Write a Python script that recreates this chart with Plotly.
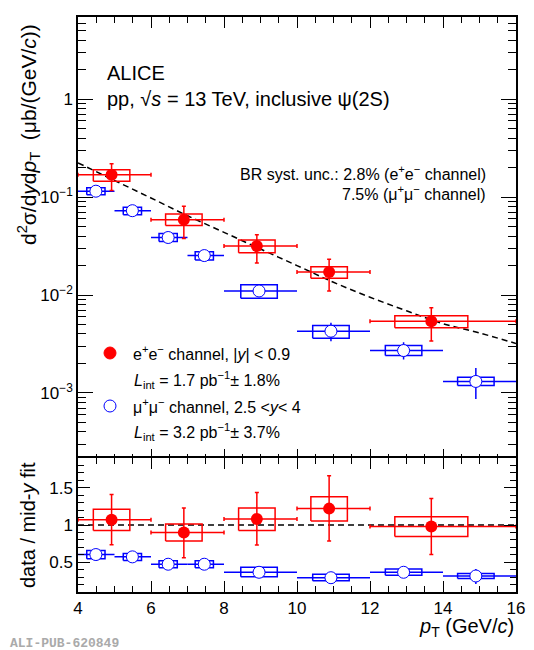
"""Inclusive psi(2S) cross section in pp at 13 TeV, e+e- and mu+mu- channels
"""

import plotly.graph_objects as go

# e+e- channel, |y| < 0.9
ee_x = [4.92, 6.90, 8.90, 10.88, 13.68]
ee_bin_lo = [4, 6, 8, 10, 12]
ee_bin_hi = [6, 8, 10, 12, 16]
ee_box_half = [0.5, 0.5, 0.5, 0.5, 1.0]
ee_xsec = [0.169, 0.0588, 0.0316, 0.0172, 0.0054]
ee_stat_hi = [0.219, 0.0805, 0.0412, 0.0232, 0.0074]
ee_stat_lo = [0.117, 0.0378, 0.0213, 0.0110, 0.0034]
ee_sys_hi = [0.190, 0.0673, 0.0364, 0.0195, 0.00614]
ee_sys_lo = [0.145, 0.0514, 0.0270, 0.0148, 0.00462]

# mu+mu- channel, 2.5 < y < 4
mm_x = [4.49, 5.49, 6.47, 7.46, 8.96, 10.93, 12.92, 14.90]
mm_bin_lo = [4, 5, 6, 7, 8, 10, 12, 14]
mm_bin_hi = [5, 6, 7, 8, 10, 12, 14, 16]
mm_box_half = [0.25, 0.25, 0.25, 0.25, 0.5, 0.5, 0.5, 0.5]
mm_xsec = [0.115, 0.0727, 0.0387, 0.0253, 0.0110, 0.00427, 0.00271, 0.00131]
mm_stat_hi = [0.121, 0.0765, 0.0410, 0.0268, 0.0120, 0.0052, 0.0033, 0.0018]
mm_stat_lo = [0.109, 0.0690, 0.0365, 0.0238, 0.0101, 0.00338, 0.00219, 0.000865]
mm_sys_hi = [0.125, 0.0786, 0.0425, 0.0276, 0.0127, 0.00489, 0.00305, 0.00145]
mm_sys_lo = [0.106, 0.0660, 0.0352, 0.0228, 0.00925, 0.00362, 0.00241, 0.00119]

# mid-y fit (dashed curve)
fit_x = [4, 5, 6, 7, 8, 9, 10, 11, 12, 13, 14, 15, 16]
fit_y = [0.224, 0.148, 0.098, 0.0646, 0.0437, 0.0295, 0.0200, 0.0135,
         0.0095, 0.0069, 0.0051, 0.0041, 0.0032]

# ratios data / mid-y fit
ee_ratio = [1.072, 0.90, 1.08, 1.22, 0.98]
ee_ratio_stat_hi = [1.41, 1.23, 1.437, 1.66, 1.355]
ee_ratio_stat_lo = [0.734, 0.56, 0.73, 0.784, 0.603]
ee_ratio_sys_hi = [1.21, 1.013, 1.23, 1.38, 1.11]
ee_ratio_sys_lo = [0.927, 0.784, 0.927, 1.054, 0.846]

mm_ratio = [0.603, 0.572, 0.473, 0.473, 0.365, 0.292, 0.365, 0.315]
mm_ratio_stat_hi = [0.63, 0.60, 0.50, 0.50, 0.39, 0.32, 0.39, 0.41]
mm_ratio_stat_lo = [0.575, 0.545, 0.445, 0.445, 0.34, 0.265, 0.34, 0.207]
mm_ratio_sys_hi = [0.657, 0.616, 0.52, 0.52, 0.432, 0.338, 0.41, 0.35]
mm_ratio_sys_lo = [0.545, 0.522, 0.427, 0.427, 0.305, 0.252, 0.324, 0.28]

top_ticks = [0.001, 0.01, 0.1, 1]
top_ticktext = ['10<sup>\u22123</sup>', '10<sup>\u22122</sup>', '10<sup>\u22121</sup>', '1']

RED = '#ff0000'
BLUE = '#0000ff'
FONT = 'Liberation Sans, Arial, sans-serif'

# the page body keeps its 8px margin, so the figure is 8px smaller each way
BODY = 8
W, H = 534 - BODY, 650 - BODY
ML, MR, MT, MB = 78 - BODY, 18, 17 - BODY, 58
PLOT_H = H - MT - MB
SPLIT = 134 / PLOT_H


def px(x):
    """screen column -> paper x"""
    return (x - BODY - ML) / (W - ML - MR)


def py(y):
    """screen row -> paper y"""
    return (H + BODY - MB - y) / PLOT_H


def box_path(xc, half, lo, hi):
    """outline of the systematic boxes, one closed path per point"""
    xs, ys = [], []
    for c, h, l, u in zip(xc, half, lo, hi):
        xs += [c - h, c + h, c + h, c - h, c - h, None]
        ys += [l, l, u, u, l, None]
    return xs, ys


def errors(val, hi, lo):
    return dict(type='data', symmetric=False,
                array=[u - v for u, v in zip(hi, val)],
                arrayminus=[v - l for v, l in zip(val, lo)])


def xerrors(xc, lo, hi):
    return dict(type='data', symmetric=False,
                array=[u - c for u, c in zip(hi, xc)],
                arrayminus=[c - l for c, l in zip(xc, lo)])


fig = go.Figure()

# ---- top panel ----
fig.add_trace(go.Scatter(x=fit_x, y=fit_y, mode='lines', line_shape='spline',
                         line=dict(color='black', width=1.5, dash='6px,4px'),
                         xaxis='x', yaxis='y'))

bx, by = box_path(mm_x, mm_box_half, mm_sys_lo, mm_sys_hi)
fig.add_trace(go.Scatter(x=bx, y=by, mode='lines', line=dict(color=BLUE, width=1.5),
                         xaxis='x', yaxis='y'))
bx, by = box_path(ee_x, ee_box_half, ee_sys_lo, ee_sys_hi)
fig.add_trace(go.Scatter(x=bx, y=by, mode='lines', line=dict(color=RED, width=1.5),
                         xaxis='x', yaxis='y'))

fig.add_trace(go.Scatter(
    x=mm_x, y=mm_xsec, mode='markers',
    marker=dict(symbol='circle', size=12, color='white', line=dict(color=BLUE, width=1)),
    error_y=dict(errors(mm_xsec, mm_stat_hi, mm_stat_lo), color=BLUE, thickness=1.5, width=0),
    error_x=dict(xerrors(mm_x, mm_bin_lo, mm_bin_hi), color=BLUE, thickness=1.5, width=0),
    xaxis='x', yaxis='y'))
fig.add_trace(go.Scatter(
    x=ee_x, y=ee_xsec, mode='markers',
    marker=dict(symbol='circle', size=12, color=RED),
    error_y=dict(errors(ee_xsec, ee_stat_hi, ee_stat_lo), color=RED, thickness=1.5, width=2),
    error_x=dict(xerrors(ee_x, ee_bin_lo, ee_bin_hi), color=RED, thickness=1.5, width=2),
    xaxis='x', yaxis='y'))

# ---- ratio panel ----
fig.add_trace(go.Scatter(x=[4, 16], y=[1, 1], mode='lines',
                         line=dict(color='black', width=1.5, dash='6px,4px'),
                         xaxis='x2', yaxis='y2'))

bx, by = box_path(mm_x, mm_box_half, mm_ratio_sys_lo, mm_ratio_sys_hi)
fig.add_trace(go.Scatter(x=bx, y=by, mode='lines', line=dict(color=BLUE, width=1.5),
                         xaxis='x2', yaxis='y2'))
bx, by = box_path(ee_x, ee_box_half, ee_ratio_sys_lo, ee_ratio_sys_hi)
fig.add_trace(go.Scatter(x=bx, y=by, mode='lines', line=dict(color=RED, width=1.5),
                         xaxis='x2', yaxis='y2'))

fig.add_trace(go.Scatter(
    x=mm_x, y=mm_ratio, mode='markers',
    marker=dict(symbol='circle', size=12, color='white', line=dict(color=BLUE, width=1)),
    error_y=dict(errors(mm_ratio, mm_ratio_stat_hi, mm_ratio_stat_lo), color=BLUE,
                 thickness=1.5, width=0),
    error_x=dict(xerrors(mm_x, mm_bin_lo, mm_bin_hi), color=BLUE, thickness=1.5, width=0),
    xaxis='x2', yaxis='y2'))
fig.add_trace(go.Scatter(
    x=ee_x, y=ee_ratio, mode='markers',
    marker=dict(symbol='circle', size=12, color=RED),
    error_y=dict(errors(ee_ratio, ee_ratio_stat_hi, ee_ratio_stat_lo), color=RED,
                 thickness=1.5, width=2),
    error_x=dict(xerrors(ee_x, ee_bin_lo, ee_bin_hi), color=RED, thickness=1.5, width=2),
    xaxis='x2', yaxis='y2'))

# axes, ROOT style: ticks inside on all sides
frame = dict(showline=True, linecolor='black', linewidth=1.5, mirror='allticks',
             ticks='inside', tickcolor='black', tickwidth=1.2, showgrid=False,
             zeroline=False, automargin=False,
             tickfont=dict(family=FONT, size=17, color='black'))

minor_log = [k * 10.0 ** e for e in range(-4, 1) for k in range(2, 10)]

fig.update_layout(
    template='none',
    width=W, height=H,
    margin=dict(l=ML, r=MR, t=MT, b=MB),
    paper_bgcolor='white', plot_bgcolor='white',
    showlegend=False,
    font=dict(family=FONT, size=16, color='black'),
    xaxis=dict(frame, domain=[0, 1], anchor='y', range=[4, 16], dtick=2, ticklen=11,
               showticklabels=False,
               minor=dict(dtick=0.5, ticks='inside', ticklen=6, tickcolor='black')),
    # top panel overlaps the ratio panel by one line width so the frames merge
    yaxis=dict(frame, domain=[SPLIT - 1.5 / PLOT_H, 1], anchor='x', type='log',
               range=[-3.68, 0.84],
               tickmode='array', tickvals=top_ticks, ticktext=top_ticktext, ticklen=15,
               minor=dict(tickmode='array', tickvals=minor_log, ticks='inside',
                          ticklen=8, tickcolor='black')),
    xaxis2=dict(frame, domain=[0, 1], anchor='y2', range=[4, 16], dtick=2, ticklen=11,
                minor=dict(dtick=0.5, ticks='inside', ticklen=6, tickcolor='black')),
    yaxis2=dict(frame, domain=[0, SPLIT], anchor='x2', range=[0.1, 1.9], dtick=0.5,
                tick0=0, ticklen=12,
                minor=dict(dtick=0.1, ticks='inside', ticklen=6, tickcolor='black')),
)

# texts
notes = [
    (105, 72.5, 'ALICE', 20, 'left'),
    (105, 99, 'pp, \u221a<i>s</i> = 13 TeV, inclusive \u03c8(2S)', 20, 'left'),
    (488, 173, 'BR syst. unc.: 2.8% (e<sup>+</sup>e<sup>\u2212</sup> channel)', 16, 'right'),
    (488, 193, '7.5% (\u03bc<sup>+</sup>\u03bc<sup>\u2212</sup> channel)', 16, 'right'),
    (131, 353, 'e<sup>+</sup>e<sup>\u2212</sup> channel, |<i>y</i>| &lt; 0.9', 16, 'left'),
    (132, 380, '<i>L</i><sub>int</sub> = 1.7 pb<sup>\u22121</sup>\u00b1 1.8%', 16, 'left'),
    (131, 406, '\u03bc<sup>+</sup>\u03bc<sup>\u2212</sup> channel, 2.5 &lt;<i>y</i>&lt; 4',
     16, 'left'),
    (132, 432, '<i>L</i><sub>int</sub> = 3.2 pb<sup>\u22121</sup>\u00b1 3.7%', 16, 'left'),
    (516, 627, '<i>p</i><sub>T</sub> (GeV/<i>c</i>)', 20, 'right'),
]
for x, y, text, size, align in notes:
    fig.add_annotation(x=px(x), y=py(y), xref='paper', yref='paper', text=text,
                       showarrow=False, xanchor=align, yanchor='middle',
                       font=dict(family=FONT, size=size, color='black'))

fig.add_annotation(x=px(29), y=py(135), xref='paper', yref='paper', textangle=-90,
                   xanchor='center', yanchor='middle',
                   text='d<sup>2</sup>\u03c3/d<i>y</i>d<i>p</i><sub>T</sub>\u00a0\u00a0'
                        '(\u03bcb/(GeV/<i>c</i>))',
                   showarrow=False, font=dict(family=FONT, size=21, color='black'))
fig.add_annotation(x=px(28), y=py(525), xref='paper', yref='paper', textangle=-90,
                   xanchor='center', yanchor='middle',
                   text='data / mid-<i>y</i> fit',
                   showarrow=False, font=dict(family=FONT, size=20, color='black'))
fig.add_annotation(x=px(BODY), y=py(643), xref='paper', yref='paper', xanchor='left',
                   yanchor='middle', text='<b>ALI-PUB-620849</b>', showarrow=False,
                   font=dict(family='Liberation Mono, monospace', size=13, color='#aaaaaa'))

# legend glyphs
fig.add_shape(type='circle', xref='paper', yref='paper', xsizemode='pixel',
              ysizemode='pixel', xanchor=px(110), yanchor=py(353),
              x0=-6, x1=6, y0=-6, y1=6, fillcolor=RED, line=dict(color=RED, width=1))
fig.add_shape(type='circle', xref='paper', yref='paper', xsizemode='pixel',
              ysizemode='pixel', xanchor=px(110), yanchor=py(406),
              x0=-6, x1=6, y0=-6, y1=6, fillcolor='white', line=dict(color=BLUE, width=1))

fig.write_html('out.html')
